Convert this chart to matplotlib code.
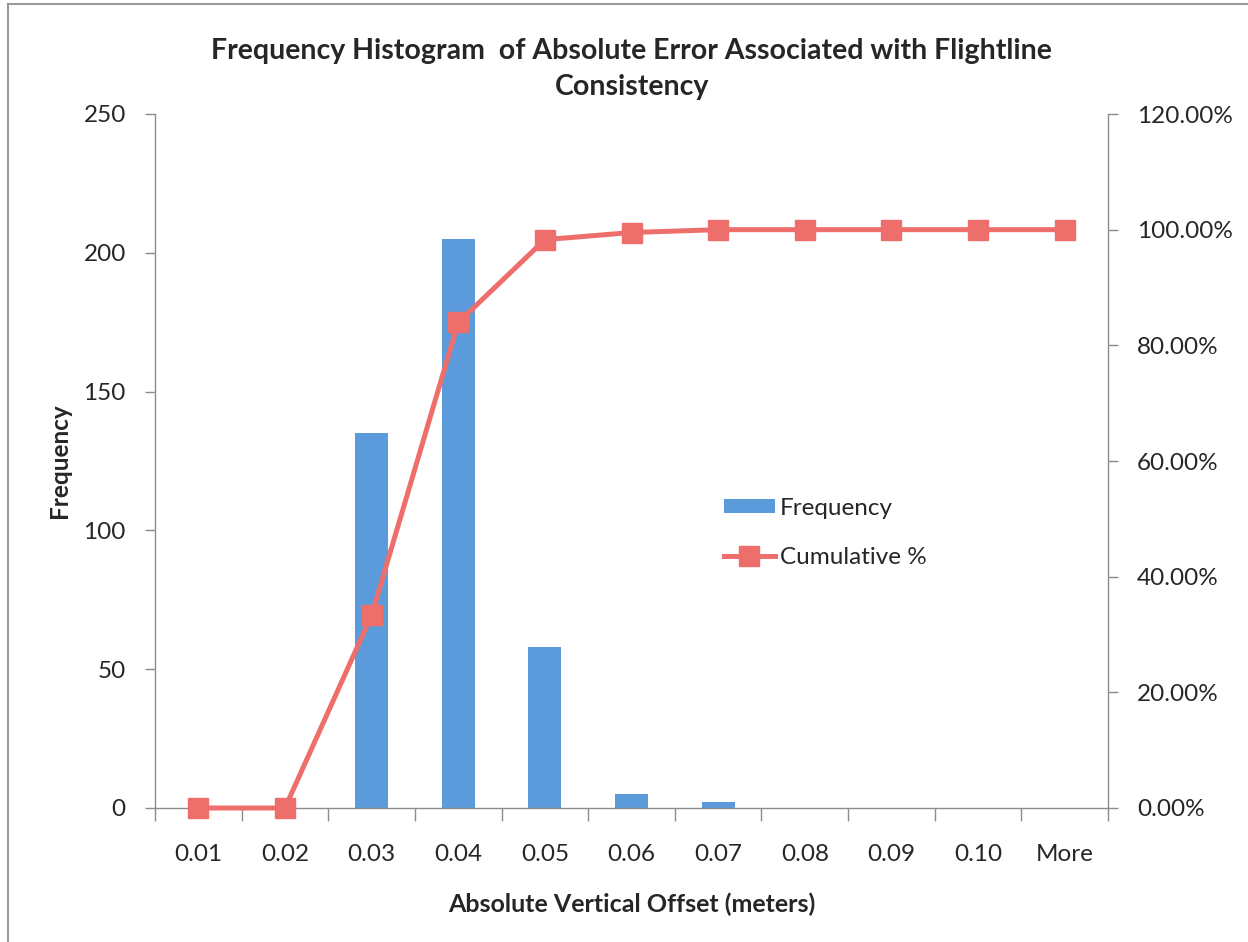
import matplotlib
matplotlib.use("Agg")
import matplotlib.pyplot as plt
from matplotlib.lines import Line2D
from matplotlib.ticker import FixedLocator, PercentFormatter

categories = ["0.01", "0.02", "0.03", "0.04", "0.05", "0.06", "0.07", "0.08", "0.09", "0.10", "More"]
frequency = [0, 0, 135, 205, 58, 5, 2, 0, 0, 0, 0]
cumulative_pct = [0.00, 0.00, 33.33, 83.95, 98.27, 99.51, 100.00, 100.00, 100.00, 100.00, 100.00]
left_ticks = [0, 50, 100, 150, 200, 250]
right_ticks = [0, 20, 40, 60, 80, 100, 120]

plt.rcParams['font.family'] = ['Lato', 'DejaVu Sans']

W, H = 1248, 942
fig = plt.figure(figsize=(W / 100, H / 100), dpi=100)
ax = fig.add_axes([155 / W, 1 - 808 / H, (1108 - 155) / W, (808 - 114) / H])
ax2 = ax.twinx()

bar_color = "#5B9BDB"
line_color = "#EE6E6C"
spine_color = "#8C8C8C"
text_color = "#262626"

x = list(range(len(categories)))
ax.bar(x, frequency, width=0.38, color=bar_color, label="Frequency", zorder=2)
ax2.plot(x, cumulative_pct, color=line_color, lw=3.6, marker="s", markersize=14,
         label="Cumulative %", zorder=3, clip_on=False)

ax.set_xlim(-0.5, len(categories) - 0.5)
ax.set_ylim(0, 250)
ax2.set_ylim(0, 120)

ax.set_yticks(left_ticks)
ax2.set_yticks(right_ticks)
ax2.yaxis.set_major_formatter(PercentFormatter(decimals=2))

ax.set_xticks(x)
ax.set_xticklabels(categories)
ax.xaxis.set_minor_locator(FixedLocator([i - 0.5 for i in range(len(categories) + 1)]))
ax.tick_params(axis="x", which="major", length=0, pad=26, labelsize=17.5, colors=text_color)
ax.tick_params(axis="x", which="minor", length=9, width=1, color=spine_color, direction="out")
ax.tick_params(axis="y", length=7, width=1, color=spine_color, labelsize=17.5,
               labelcolor=text_color, pad=14)
ax2.tick_params(axis="y", length=7, width=1, color=spine_color, labelsize=17.5,
                labelcolor=text_color, pad=14)

for a in (ax, ax2):
    a.spines["top"].set_visible(False)
    for s in ("left", "right", "bottom"):
        a.spines[s].set_color(spine_color)
        a.spines[s].set_linewidth(1)
ax.spines["right"].set_visible(False)
ax2.spines["left"].set_visible(False)
ax2.spines["bottom"].set_visible(False)

ax.set_xlabel("Absolute Vertical Offset (meters)", fontsize=18, fontweight="bold",
              color=text_color, labelpad=20)
ax.set_ylabel("Frequency", fontsize=17.5, fontweight="bold", color=text_color, labelpad=9)

fig.text(0.5063, 1 - 69 / H, "Frequency Histogram  of Absolute Error Associated with Flightline\nConsistency",
         ha="center", va="center", fontsize=20.5, fontweight="bold", color=text_color,
         linespacing=1.45)

h1, l1 = ax.get_legend_handles_labels()
h2, l2 = ax2.get_legend_handles_labels()
leg = ax2.legend(h1 + h2, l1 + l2, loc="upper left", bbox_to_anchor=(702 / W, 1 - 476 / H),
                 bbox_transform=fig.transFigure, frameon=False, fontsize=17.5,
                 handlelength=2.1, handleheight=0.5, labelspacing=1.15, handletextpad=0.2)
for t in leg.get_texts():
    t.set_color(text_color)

# outer chart border (left and top)
fig.add_artist(Line2D([8 / W, 8 / W], [0, 1 - 4 / H], transform=fig.transFigure,
                      color="#9A9A9A", lw=1.5))
fig.add_artist(Line2D([8 / W, 1], [1 - 4 / H, 1 - 4 / H], transform=fig.transFigure,
                      color="#9A9A9A", lw=1.5))

fig.savefig("out.png", dpi=100)
